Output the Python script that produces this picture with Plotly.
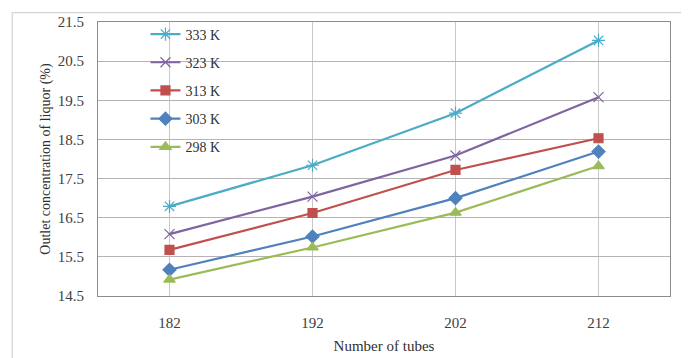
import plotly.graph_objects as go

tubes = ["182", "192", "202", "212"]
s333 = [16.79, 17.84, 19.17, 21.03]
s323 = [16.08, 17.04, 18.09, 19.58]
s313 = [15.68, 16.62, 17.72, 18.53]
s303 = [15.17, 16.02, 17.00, 18.19]
s298 = [14.92, 15.74, 16.63, 17.82]

series = [
    ("333 K", s333, "#4BACC6", "asterisk-open", 11),
    ("323 K", s323, "#8064A2", "x-thin-open", 10),
    ("313 K", s313, "#C0504D", "square", 9),
    ("303 K", s303, "#4F81BD", "diamond", 10),
    ("298 K", s298, "#9BBB59", "triangle-up", 10),
]

font_fam = "Liberation Serif, Times New Roman, serif"
fig = go.Figure()
for i, (name, vals, col, sym, sz) in enumerate(series):
    fig.add_trace(go.Scatter(
        x=tubes, y=vals, name=name, mode="lines+markers",
        line=dict(color=col, width=2.2),
        marker=dict(symbol=sym, size=sz, color=col, line=dict(color=col, width=1.2)),
        legendgroup=str(i),
    ))

fig.update_layout(
    width=689, height=358,
    margin=dict(l=90, r=27, t=10, b=70),
    paper_bgcolor="white", plot_bgcolor="white",
    font=dict(family=font_fam, size=15, color="#404040"),
    showlegend=True,
    legend=dict(x=0.083, y=1.013, xanchor="left", yanchor="top",
                bgcolor="rgba(0,0,0,0)", font=dict(family=font_fam, size=14, color="#303030"),
                tracegroupgap=7, traceorder="grouped", itemwidth=30),
    xaxis=dict(type="category", range=[-0.5, 3.5], showgrid=True, gridcolor="#c8c8c8",
               gridwidth=1, showline=True, linecolor="#8c8c8c", mirror=True,
               ticks="outside", ticklen=13, tickcolor="rgba(0,0,0,0)",
               tickfont=dict(size=15, color="#404040"),
               title=dict(text="Number of tubes", font=dict(size=15, color="#303030"), standoff=10),
               automargin=False),
    yaxis=dict(range=[14.5, 21.5], dtick=1, tick0=14.5, tickformat=".1f", showgrid=True,
               gridcolor="#b4b4b4", gridwidth=1, showline=True, linecolor="#8c8c8c",
               mirror=True, ticks="outside", ticklen=10, tickcolor="rgba(0,0,0,0)", zeroline=False,
               tickfont=dict(size=15, color="#404040"),
               title=dict(text="Outlet concentration of liquor (%)",
                          font=dict(size=14, color="#303030"), standoff=3),
               automargin=False),
    shapes=[dict(type="rect", xref="paper", yref="paper",
                 x0=-0.150, x1=1.026, y0=-0.3, y1=1.034,
                 line=dict(color="#c8c8c8", width=1))],
)

fig.write_html("out.html")
